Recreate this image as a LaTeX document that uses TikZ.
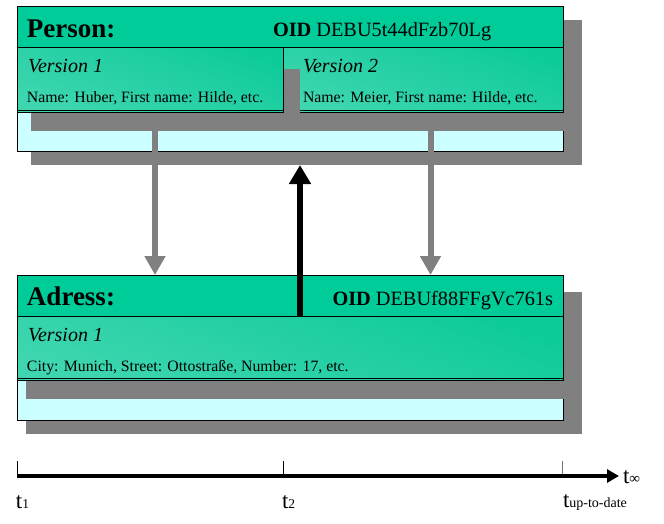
\documentclass[tikz,border=0pt]{standalone}
\usepackage{fontspec}
\setmainfont{Liberation Serif}
\usetikzlibrary{arrows.meta}
\definecolor{hdr}{RGB}{0,204,153}
\definecolor{vdark}{RGB}{14,203,154}
\definecolor{vlight}{RGB}{62,214,175}
\definecolor{cyanfill}{RGB}{204,255,255}
\definecolor{shgray}{RGB}{128,128,128}
\begin{document}
\begin{tikzpicture}[x=1pt,y=-1pt,
  frame/.style={draw=black,line width=0.9pt,inner sep=0pt,outer sep=0pt,anchor=north west},
  shadowbox/.style={fill=shgray,inner sep=0pt,outer sep=0pt,anchor=north west},
  header/.style={frame,fill=hdr},
  verbox/.style={frame,top color=vdark,bottom color=vlight,shading angle=-20},
  outerbox/.style={frame,fill=cyanfill},
  txt/.style={inner sep=0pt,outer sep=0pt,anchor=base west},
  titletxt/.style={txt,font=\fontsize{27}{30}\selectfont\bfseries},
  oidtxt/.style={inner sep=0pt,outer sep=0pt,font=\fontsize{20.3}{22}\selectfont},
  vertxt/.style={txt,font=\fontsize{20}{23}\selectfont\itshape},
  datatxt/.style={txt,font=\fontsize{15.8}{18}\selectfont},
  timetxt/.style={txt,font=\fontsize{23}{25}\selectfont},
  grayarrow/.style={draw=shgray,line width=6pt,-{Triangle[length=19pt,width=20pt]}},
  blackarrow/.style={draw=black,line width=6.5pt,-{Triangle[length=19pt,width=21pt]}},
  tick/.style={draw=black,line width=0.8pt},
  dblline/.style={draw=black,line width=0.9pt}
]
\useasboundingbox (0,0) rectangle (664,523);

% ---------------- Person ----------------
\node[shadowbox,minimum width=551pt,minimum height=145pt] (pshadow) at (31,20) {};
\node[outerbox,minimum width=546pt,minimum height=145pt] (person) at (17,6) {};
\node[shadowbox,minimum width=278pt,minimum height=62pt] (pv2shadow) at (300,69) {};
\node[verbox,minimum width=280pt,minimum height=65pt] (pv2) at (283,47) {};
\draw[dblline] ([yshift=2pt]pv2.south west) -- ([yshift=2pt]pv2.south east);
\node[shadowbox,minimum width=269pt,minimum height=62pt] (pv1shadow) at (31,69) {};
\node[verbox,minimum width=266pt,minimum height=65pt] (pv1) at (17,47) {};
\draw[dblline] ([yshift=2pt]pv1.south west) -- ([yshift=2pt]pv1.south east);
\node[header,minimum width=546pt,minimum height=41pt] (phead) at (17,6) {};

\node[titletxt] (ptitle) at (27,37) {Person:};
\node[oidtxt,anchor=base west] (poid) at (273,36) {\textbf{OID} DEBU5t44dFzb70Lg};
\node[vertxt] (pv1t) at (28,72) {Version 1};
\node[datatxt] (pv1d) at (27,102) {Name: Huber, First name: Hilde, etc.};
\node[vertxt] (pv2t) at (303,72) {Version 2};
\node[datatxt] (pv2d) at (303,102) {Name: Meier, First name: Hilde, etc.};

% ---------------- Adress ----------------
\node[shadowbox,minimum width=556pt,minimum height=142pt] (ashadow) at (26,292) {};
\node[outerbox,minimum width=546pt,minimum height=145pt] (adress) at (17,275) {};
\node[shadowbox,minimum width=552pt,minimum height=66pt] (av1shadow) at (26,333) {};
\node[verbox,minimum width=546pt,minimum height=64pt] (av1) at (17,316) {};
\draw[dblline] ([yshift=2pt]av1.south west) -- ([yshift=2pt]av1.south east);
\node[header,minimum width=546pt,minimum height=41pt] (ahead) at (17,275) {};

\node[titletxt] (atitle) at (27,305) {Adress:};
\node[oidtxt,anchor=base east] (aoid) at (553,305) {\textbf{OID} DEBUf88FFgVc761s};
\node[vertxt] (av1t) at (28,341) {Version 1};
\node[datatxt] (av1d) at (27,371) {City: Munich, Street: Ottostraße, Number: 17, etc.};

% ---------------- Connectors ----------------
\coordinate (g1) at (155,126);
\coordinate (g2) at (430.5,126);
\coordinate (bk) at (300,316);
\draw[grayarrow] (g1) -- (g1 |- ahead.north);
\draw[grayarrow] (g2) -- (g2 |- ahead.north);
\draw[blackarrow] (bk) -- (bk |- pshadow.south);

% ---------------- Time line ----------------
\coordinate (tk1) at (17,476);
\coordinate (tk2) at (283,476);
\coordinate (tk3) at (562,476);
\coordinate (tend) at (619,476);
\draw[tick] (tk1) -- ++(0,-15);
\draw[tick] (tk2) -- ++(0,-15);
\draw[tick,draw=black!55] (tk3) -- ++(0,-15);
\draw[line width=4.5pt,-{Triangle[length=12pt,width=13pt]}] (tk1) -- (tend);

\node[timetxt] (lt1) at (16,508) {t{\fontsize{13.5}{13}\selectfont 1}};
\node[timetxt] (lt2) at (282,508) {t{\fontsize{13.5}{13}\selectfont 2}};
\node[timetxt] (lt3) at (563,507) {t{\fontsize{14}{13}\selectfont up-to-date}};
\node[timetxt] (lt4) at (623,483) {t{\fontsize{15}{13}\selectfont ∞}};
\end{tikzpicture}
\end{document}
